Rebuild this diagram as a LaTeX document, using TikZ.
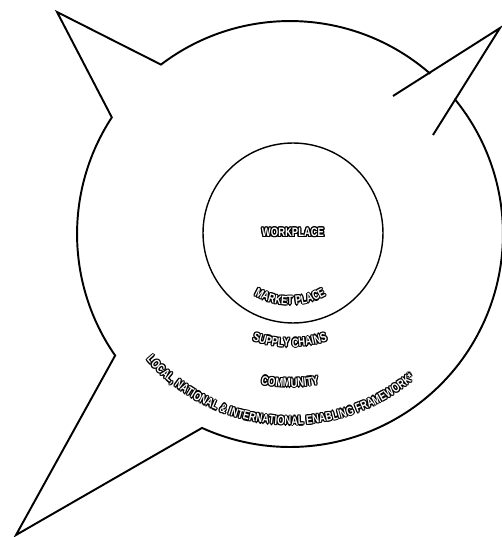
\documentclass[tikz,border=0pt]{standalone}
\usepackage{fontspec}
\usepackage{contour}
\usetikzlibrary{calc,decorations.text}
\newfontfamily\lblfont[FakeStretch=0.77]{Liberation Sans}
\newcommand\lblstyle{\lblfont\bfseries\fontsize{7pt}{8pt}\selectfont}
\contourlength{0.7pt}
\tikzset{ring/.style={line width=1.1pt, line join=miter},
  hub/.style={line width=0.8pt}}
% outlined text along an arc round (ctr): radius, start, end, text
\newcommand\arclabel[4]{%
  \foreach \a in {0,45,...,315}{%
    \path[decorate,decoration={text along path,text color=black,text align=center,
        text={|\lblstyle|#4}}]
      ([shift={(\a:0.7pt)}]ctr) ++(#2:#1) arc[start angle=#2,end angle=#3,radius=#1];}
  \path[decorate,decoration={text along path,text color=white,text align=center,
      text={|\lblstyle|#4}}]
    (ctr) ++(#2:#1) arc[start angle=#2,end angle=#3,radius=#1];}
\begin{document}
\begin{tikzpicture}[x=0.02cm,y=0.02cm]
  \useasboundingbox (0,0) rectangle (502,537);
  \coordinate (ctr) at (290,303);
  \coordinate (hubc) at (293,304);
  \coordinate (tipA) at (57,525);
  \coordinate (tipB) at (16,2);
  \coordinate (tipC) at (500,509);
  \coordinate (inA) at (393,441);
  \coordinate (inB) at (433,402);
  % outer ring with its spikes
  \draw[ring] ($(ctr)+(48.8:4.26cm)$) arc[start angle=48.8,end angle=127.3,radius=4.26cm]
    -- (tipA) -- ($(ctr)+(146.8:4.26cm)$) arc[start angle=146.8,end angle=214.8,radius=4.26cm]
    -- (tipB) -- ($(ctr)+(245.6:4.26cm)$) arc[start angle=245.6,end angle=399.4,radius=4.26cm];
  \draw[ring] (inA) -- (tipC) -- (inB);
  % inner circle
  \draw[hub] (hubc) circle[radius=1.8cm];
  \node[text=white,font=\lblstyle] (work) at (hubc) {\contour{black}{WORKPLACE}};
  \arclabel{1.42cm}{225}{315}{MARKET PLACE}
  \arclabel{2.26cm}{235}{305}{SUPPLY CHAINS}
  \arclabel{3.06cm}{245}{295}{COMMUNITY}
  \arclabel{3.82cm}{206}{326}{LOCAL, NATIONAL {\&} INTERNATIONAL ENABLING FRAMEWORK*}
\end{tikzpicture}
\end{document}
